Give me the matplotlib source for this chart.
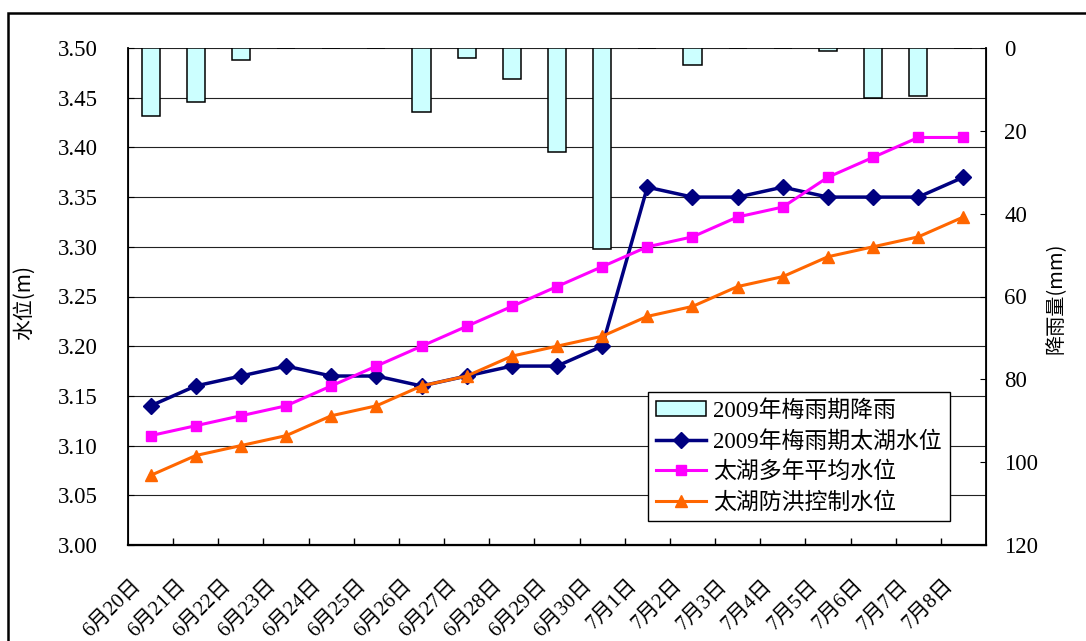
import matplotlib
matplotlib.use('Agg')
import matplotlib.pyplot as plt
import matplotlib.transforms as mtransforms
from matplotlib.patches import Rectangle

# fuentes: numeros en serif, caracteres chinos con Noto CJK
plt.rcParams['font.family'] = ['Liberation Serif', 'Noto Sans CJK SC']

# datos
fechas = ['6月20日', '6月21日', '6月22日', '6月23日', '6月24日', '6月25日', '6月26日',
          '6月27日', '6月28日', '6月29日', '6月30日', '7月1日', '7月2日', '7月3日',
          '7月4日', '7月5日', '7月6日', '7月7日', '7月8日']
lluvia = [16.5, 13, 3, 0, 0, 0, 15.5, 2.5, 7.5, 25, 48.5, 0, 4, 0, 0, 0.8, 12, 11.5, 0]
nivel_2009 = [3.14, 3.16, 3.17, 3.18, 3.17, 3.17, 3.16, 3.17, 3.18, 3.18, 3.20,
              3.36, 3.35, 3.35, 3.36, 3.35, 3.35, 3.35, 3.37]
nivel_medio = [3.11, 3.12, 3.13, 3.14, 3.16, 3.18, 3.20, 3.22, 3.24, 3.26, 3.28,
               3.30, 3.31, 3.33, 3.34, 3.37, 3.39, 3.41, 3.41]
nivel_control = [3.07, 3.09, 3.10, 3.11, 3.13, 3.14, 3.16, 3.17, 3.19, 3.20, 3.21,
                 3.23, 3.24, 3.26, 3.27, 3.29, 3.30, 3.31, 3.33]
etiquetas = ['2009年梅雨期降雨', '2009年梅雨期太湖水位', '太湖多年平均水位', '太湖防洪控制水位']

x = list(range(len(fechas)))

fig = plt.figure(figsize=(10.86, 6.41), dpi=100)
ax = fig.add_axes([128/1086, 1 - 545/641, 858/1086, 497/641])
ax2 = ax.twinx()

# lineas de nivel (eje izquierdo)
l1, = ax.plot(x, nivel_2009, color='#000080', lw=2.5, marker='D', ms=8.5)
l2, = ax.plot(x, nivel_medio, color='#FF00FF', lw=2.2, marker='s', ms=7.5)
l3, = ax.plot(x, nivel_control, color='#FF6600', lw=2.2, marker='^', ms=9)

ax.set_xlim(-0.5, len(fechas) - 0.5)
ax.set_ylim(3.0, 3.5)
ax.set_yticks([3.0 + 0.05*i for i in range(11)])
ax.set_yticklabels(['%.2f' % (3.0 + 0.05*i) for i in range(11)])
ax.yaxis.grid(True, color='#222222', lw=0.8)
ax.set_axisbelow(True)
ax.tick_params(axis='y', direction='in', length=4, pad=22, labelsize=16.5)

# ticks entre categorias, etiquetas en el centro
ax.set_xticks([i + 0.5 for i in range(len(fechas) - 1)])
ax.set_xticklabels([])
ax.tick_params(axis='x', which='major', direction='in', length=5, width=1)
ax.set_xticks(x, minor=True)
ax.set_xticklabels(fechas, minor=True, rotation=45, ha='right', va='center',
                   rotation_mode='anchor', fontsize=15)
ax.tick_params(axis='x', which='minor', length=0, pad=27)
desplaza = mtransforms.ScaledTranslation(-0.13, 0, fig.dpi_scale_trans)
for t in ax.get_xticklabels(minor=True):
    t.set_transform(t.get_transform() + desplaza)

# barras de lluvia (eje derecho invertido)
barras = ax2.bar(x, lluvia, width=0.4, color='#CCFFFF', edgecolor='black', lw=1.1)
ax2.set_ylim(120, 0)
ax2.set_yticks(range(0, 121, 20))
ax2.tick_params(axis='y', direction='in', length=4.5, pad=13, labelsize=16.5)

for s in ['top']:
    ax.spines[s].set_visible(False)
    ax2.spines[s].set_visible(False)
ax.spines['left'].set_linewidth(1.3)
ax.spines['bottom'].set_linewidth(1.6)
ax2.spines['right'].set_linewidth(1.3)

ax.set_ylabel('水位(m)', fontsize=15, family=['Noto Sans CJK SC', 'DejaVu Sans'])
ax.yaxis.set_label_coords(-0.108, 0.487)
ax2.set_ylabel('降雨量(mm)', fontsize=14.5, family=['Noto Sans CJK SC', 'DejaVu Sans'])
ax2.yaxis.set_label_coords(1.070, 0.496)

leg = ax2.legend([barras, l1, l2, l3], etiquetas, loc='upper left',
                 bbox_to_anchor=(0.606, 0.308), borderaxespad=0, fontsize=16.5,
                 fancybox=False, edgecolor='black', framealpha=1, handlelength=2.2,
                 handleheight=0.6, handletextpad=0.3, labelspacing=0.38, borderpad=0.35)
leg.get_frame().set_linewidth(1.0)

# marco exterior del grafico
fig.add_artist(Rectangle((8/1086, -0.1), 1.2, 1 - 12.5/641 + 0.1, transform=fig.transFigure,
                         fill=False, lw=1.8, edgecolor='black', clip_on=False))

fig.savefig('out.png', dpi=100)
